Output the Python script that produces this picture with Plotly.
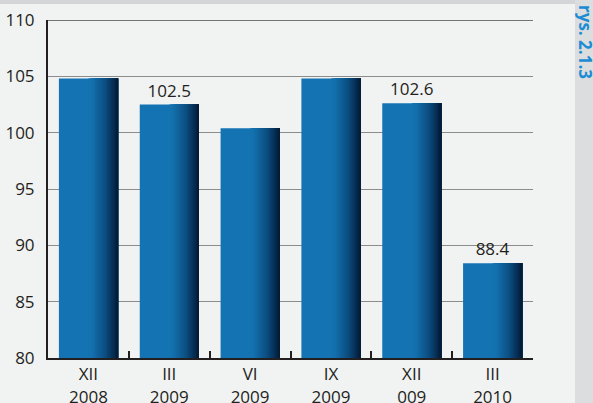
import plotly.graph_objects as go

# Data
periods = ["XII<br>2008", "III<br>2009", "VI<br>2009", "IX<br>2009", "XII<br>009", "III<br>2010"]
values = [104.8, 102.5, 100.4, 104.8, 102.6, 88.4]
value_labels = ["", "102.5", "", "", "102.6", "88.4"]
y_ticks = [80, 85, 90, 95, 100, 105, 110]

W, H = 593, 403
L, R, T, B = 48, 533, 20, 358   # plot area in pixels
BAR_W = 0.73
FONT = "Open Sans"
TXT = "#231f20"


def px_x(px):
    return (px - L) / (R - L)


def px_y(py):
    return (B - py) / (B - T)


def lerp_hex(c1, c2, t):
    a = [int(c1[i:i + 2], 16) for i in (1, 3, 5)]
    b = [int(c2[i:i + 2], 16) for i in (1, 3, 5)]
    return "#" + "".join(f"{round(a[k] + (b[k] - a[k]) * t):02x}" for k in range(3))


fig = go.Figure()

# Base bar (flat blue) carrying the value labels
fig.add_trace(go.Bar(
    x=periods, y=values, width=BAR_W,
    marker=dict(color="#1474b3", line=dict(width=0)),
    text=value_labels, textposition="outside",
    textfont=dict(family=FONT, size=17, color=TXT),
    cliponaxis=False, hoverinfo="skip",
))

# Darkening stripes toward the right edge of each bar
stops = [(0.0, "#1474b3"), (0.55, "#1472b0"), (0.78, "#0c4f82"), (0.92, "#062e55"), (1.0, "#021a33")]
n = 22
for i in range(n):
    f0 = 0.50 + 0.5 * i / n
    t = 0.50 + 0.5 * (i + 0.5) / n
    for j in range(len(stops) - 1):
        if stops[j][0] <= t <= stops[j + 1][0]:
            u = (t - stops[j][0]) / (stops[j + 1][0] - stops[j][0])
            col = lerp_hex(stops[j][1], stops[j + 1][1], u)
            break
    fig.add_trace(go.Bar(
        x=periods, y=values,
        width=BAR_W * (1 - f0) + 0.002,
        offset=-BAR_W / 2 + BAR_W * f0,
        marker=dict(color=col, line=dict(width=0)),
        hoverinfo="skip",
    ))

shapes = [
    # top gray band
    dict(type="rect", xref="paper", yref="paper", x0=px_x(-10), x1=px_x(W + 10),
         y0=px_y(4), y1=px_y(-10), fillcolor="#d4d5d7", line=dict(width=0), layer="below"),
    # right gray strip
    dict(type="rect", xref="paper", yref="paper", x0=px_x(575), x1=px_x(W + 10),
         y0=px_y(H + 10), y1=px_y(-10), fillcolor="#dcdddf", line=dict(width=0), layer="below"),
    # darker top frame line
    dict(type="line", xref="paper", yref="y", x0=0, x1=1, y0=110, y1=110,
         line=dict(color="#4a4a4a", width=1.6)),
]

fig.update_layout(
    width=W, height=H,
    margin=dict(l=L, r=W - R, t=T, b=H - B, autoexpand=False),
    paper_bgcolor="#f1f2f2", plot_bgcolor="rgba(0,0,0,0)",
    barmode="overlay", showlegend=False,
    font=dict(family=FONT, size=17, color=TXT),
    shapes=shapes,
    annotations=[dict(
        text="rys. 2.1.3", xref="paper", yref="paper",
        x=px_x(586), y=px_y(3), xanchor="center", yanchor="top",
        textangle=90, showarrow=False,
        font=dict(family=FONT, size=17, color="#1b8cd3", weight=700),
    )],
)

fig.update_xaxes(
    type="category", showline=True, linecolor="#231f20", linewidth=2,
    ticks="inside", tickson="boundaries", ticklen=7, tickwidth=2, tickcolor="#231f20",
    tickfont=dict(family=FONT, size=17, color=TXT), showgrid=False, automargin=False,
    range=[-0.5, len(periods) - 0.5],
)
fig.update_yaxes(
    range=[80, 110], tickvals=y_ticks, showgrid=True, gridcolor="#8c8c8c", gridwidth=1.4,
    showline=True, linecolor="#231f20", linewidth=2, ticks="", ticklabelstandoff=8,
    tickfont=dict(family=FONT, size=17, color=TXT), zeroline=False, automargin=False,
)

fig.write_html("out.html")
